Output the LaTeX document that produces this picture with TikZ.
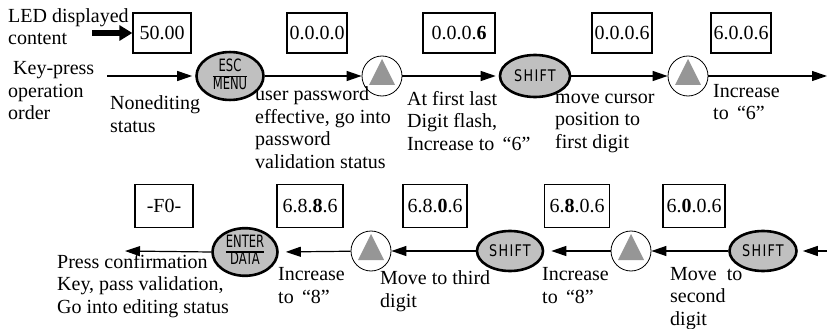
\documentclass[tikz,border=0pt]{standalone}
\usepackage{fontspec}
\setmainfont{Liberation Serif}
\newfontfamily\keyfont{DejaVu Sans}[FakeStretch=0.68]
\newfontfamily\shiftfont{DejaVu Sans}[FakeStretch=0.8,LetterSpace=8]
\usepackage{tikz}
\usetikzlibrary{arrows.meta,shapes.geometric}

\definecolor{keygray}{RGB}{192,192,192}
\definecolor{trigray}{RGB}{150,150,150}

% two-line key caps (ESC/MENU, ENTER/DATA)
\newcommand{\keypair}[2]{{\keyfont\fontsize{17}{16}\selectfont
  \renewcommand{\arraystretch}{0.8}\setlength{\arrayrulewidth}{1.2pt}%
  \begin{tabular}{@{}c@{}}#1\\\hline #2\end{tabular}}}
\newcommand{\shiftcap}{{\shiftfont\fontsize{16}{16}\selectfont SHIFT}}

\begin{document}
\begin{tikzpicture}[
  x=1pt, y=-1pt,
  every node/.style={font=\fontsize{20}{22.5}\selectfont},
  lcd/.style={draw, line width=1.3pt, minimum width=60pt,
    minimum height=40pt, inner sep=2pt},
  key/.style={ellipse, draw, line width=2.6pt, fill=keygray,
    minimum width=67pt, minimum height=42pt, inner sep=0pt},
  upkey/.style={circle, draw, line width=0.8pt, fill=white,
    minimum size=40pt, inner sep=0pt,
    path picture={\fill[trigray]
      ([xshift=-13pt,yshift=-9pt]path picture bounding box.center) --
      ([xshift=13pt,yshift=-9pt]path picture bounding box.center) --
      ([yshift=17pt]path picture bounding box.center) -- cycle;}},
  % placed by the baseline of the last line
  note/.style={anchor=base west, align=left, inner sep=0pt},
  ar/.style={-{Triangle[length=15pt,width=10pt]}, line width=1.2pt},
  bigar/.style={-{Triangle[length=13pt,width=15pt]}, line width=6pt}
]
\useasboundingbox (0,0) rectangle (828,329);

% top row
\node[note] (led) at (8,45) {LED displayed\\content};
\node[note] (order) at (8,120) {\hspace*{5pt}Key-press\\operation\\order};

\node[lcd, minimum width=58pt] (d1) at (162,33) {50.00};
\node[lcd] (d2) at (317,33) {0.0.0.0};
\node[lcd, minimum width=72pt] (d3) at (459,33) {0.0.0.\textbf{6}};
\node[lcd] (d4) at (622,33) {0.0.0.6};
\node[lcd] (d5) at (741,33) {6.0.0.6};

\node[key] (esc) at (230,76) {\keypair{ESC}{MENU}};
\node[upkey] (up1) at (382,76) {};
\node[key, minimum width=70pt] (sh1) at (535,76) {\shiftcap};
\node[upkey] (up2) at (688,76) {};

\node[note] (noedit) at (110,132) {Nonediting\\status};
\node[note] (pwd) at (255,168)
  {user password\\effective, go into\\password\\validation status};
\node[note] (flash) at (407,150)
  {At first last\\Digit flash,\\Increase to \,“6”};
\node[note] (cursor) at (555,148) {move cursor\\position to\\first digit};
\node[note] (inc1) at (713,120) {Increase\\to \,“6”};

% bottom row
\node[lcd, minimum width=58pt, minimum height=43pt] (f0) at (164,206) {-F0-};
\node[lcd, minimum width=66pt, minimum height=43pt] (d6) at (310,206) {6.8.\textbf{8}.6};
\node[lcd, minimum width=64pt, minimum height=43pt] (d7) at (435,206) {6.8.\textbf{0}.6};
\node[lcd, minimum width=65pt, minimum height=43pt] (d8) at (577,206) {6.\textbf{8}.0.6};
\node[lcd, minimum width=62pt, minimum height=43pt] (d9) at (694,206) {6.\textbf{0}.0.6};

\node[key, minimum width=65pt, minimum height=40pt] (enter) at (245,252) {\keypair{ENTER}{DATA}};
\node[upkey] (up3) at (371,251) {};
\node[key, minimum width=66pt, minimum height=40pt] (sh2) at (510,251) {\shiftcap};
\node[upkey] (up4) at (631,251) {};
\node[key, minimum width=67pt, minimum height=40pt] (sh3) at (763,251) {\shiftcap};

\node[note] (confirm) at (57,313)
  {Press confirmation\\Key, pass validation,\\Go into editing status};
\node[note] (inc2) at (278,303) {Increase\\to \,“8”};
\node[note] (third) at (380,307) {Move to third\\digit};
\node[note] (inc3) at (542,303) {Increase\\to \,“8”};
\node[note] (second) at (670,325) {Move\enspace to\\second\\digit};

\coordinate (ledtail) at (92,33);
\coordinate (start) at (107,76);
\coordinate (next) at (827,76);
\coordinate (back) at (827,251);
\coordinate (done) at (125,251);

\draw[bigar] (ledtail) -- (d1);
\draw[ar, shorten >=3pt] (start) -- (esc);
\draw[ar] (esc) -- (up1);
\draw[ar, shorten >=3pt] (up1) -- (sh1);
\draw[ar] (sh1) -- (up2);
\draw[ar] (up2) -- (next);

\draw[ar, shorten >=5pt] (back) -- (sh3);
\draw[ar] (sh3) -- (up4);
\draw[ar, shorten >=7pt] (up4) -- (sh2);
\draw[ar] (sh2) -- (up3);
\draw[ar, shorten >=7pt] (up3) -- (enter.east);
\draw[ar] (enter.west) -- (done);
\end{tikzpicture}
\end{document}
